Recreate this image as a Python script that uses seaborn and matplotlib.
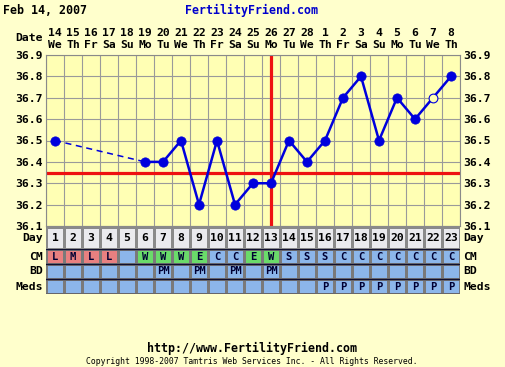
import numpy as np
import pandas as pd
import matplotlib.pyplot as plt
import seaborn as sns
from matplotlib.colors import ListedColormap

# chart data
cycle_days = list(range(1, 24))
dates = ["14", "15", "16", "17", "18", "19", "20", "21", "22", "23", "24", "25",
         "26", "27", "28", "1", "2", "3", "4", "5", "6", "7", "8"]
weekdays = ["We", "Th", "Fr", "Sa", "Su", "Mo", "Tu", "We", "Th", "Fr", "Sa", "Su",
            "Mo", "Tu", "We", "Th", "Fr", "Sa", "Su", "Mo", "Tu", "We", "Th"]
temps = [36.5, np.nan, np.nan, np.nan, np.nan, 36.4, 36.4, 36.5, 36.2, 36.5, 36.2, 36.3,
         36.3, 36.5, 36.4, 36.5, 36.7, 36.8, 36.5, 36.7, 36.6, 36.7, 36.8]
discarded_days = [22]
coverline = 36.35
ovulation_day = 13
y_ticks = [36.1, 36.2, 36.3, 36.4, 36.5, 36.6, 36.7, 36.8, 36.9]
cm = ["L", "M", "L", "L", "", "W", "W", "W", "E", "C", "C", "E", "W",
      "S", "S", "S", "C", "C", "C", "C", "C", "C", "C"]
bd = ["", "", "", "", "", "", "PM", "", "PM", "", "PM", "", "PM",
      "", "", "", "", "", "", "", "", "", ""]
meds = [""] * 15 + ["P"] * 8
row_names = ["CM", "BD", "Meds"]

BG = "#FFFFCC"
PLOT_BG = "#FFFFB4"
BLUE = "#0000DD"
RED = "#EE1111"
CELL_BLUE = "#8CB6EA"
CELL_RED = "#E88080"
CELL_GREEN = "#6ADB6A"
FONT = "DejaVu Sans Mono"

plt.rcParams["font.family"] = FONT
plt.rcParams["font.weight"] = "bold"

W, H = 506, 367
fig = plt.figure(figsize=(W / 100, H / 100), dpi=100, facecolor=BG)


def box(x0, y0, x1, y1):
    return [x0 / W, 1 - y1 / H, (x1 - x0) / W, (y1 - y0) / H]


ax = fig.add_axes(box(46, 55, 460, 226))
ax.set_facecolor(PLOT_BG)

df = pd.DataFrame({"day": cycle_days, "temp": temps}).dropna()
first = df.iloc[:2]
rest = df.iloc[1:]

sns.lineplot(data=first, x="day", y="temp", ax=ax, color=BLUE, lw=1.1,
             linestyle=(0, (4, 3)), zorder=3)
sns.lineplot(data=rest, x="day", y="temp", ax=ax, color=BLUE, lw=1.8, zorder=3)

ax.axhline(coverline, color=RED, lw=2.3, zorder=2.5)
ax.axvline(ovulation_day, color=RED, lw=2.3, zorder=2.5)

filled = df[~df["day"].isin(discarded_days)]
opened = df[df["day"].isin(discarded_days)]
sns.scatterplot(data=filled, x="day", y="temp", ax=ax, color=BLUE, s=45,
                edgecolor=BLUE, linewidth=0.5, zorder=4)
sns.scatterplot(data=opened, x="day", y="temp", ax=ax, color=PLOT_BG, s=40,
                edgecolor=BLUE, linewidth=0.8, zorder=4)

ax.set_xlim(0.5, 23.5)
ax.set_ylim(36.1, 36.9)
ax.set_xticks(np.arange(0.5, 24, 1))
ax.set_xticklabels([])
ax.set_yticks(y_ticks)
ax.set_yticklabels([f"{v:.1f}" for v in y_ticks])
ax.tick_params(axis="both", length=0, labelsize=8.2, labelright=True, pad=2)
ax.grid(True, color="#9a9a9a", lw=0.8, zorder=0)
ax.set_axisbelow(True)
ax.set_xlabel("")
ax.set_ylabel("")
for s in ax.spines.values():
    s.set_color("#8a8a8a")
    s.set_linewidth(0.8)

# date header
tr = ax.get_xaxis_transform()
for d, dt, wd in zip(cycle_days, dates, weekdays):
    ax.text(d, 1.128, dt, transform=tr, ha="center", va="center", fontsize=8.2)
    ax.text(d, 1.058, wd, transform=tr, ha="center", va="center", fontsize=8.2)
fig.text(43 / W, 1 - 38 / H, "Date", ha="right", va="center", fontsize=8.2)

# day row
day_ax = fig.add_axes(box(46, 227, 460, 249))
sns.heatmap(np.zeros((1, 23)), ax=day_ax, cmap=ListedColormap(["#EAEAEE"]),
            cbar=False, annot=np.array([[str(d) for d in cycle_days]]), fmt="",
            annot_kws={"color": "black", "fontsize": 8.2, "fontweight": "bold"},
            linewidths=0.8, linecolor="#8a8a8a", xticklabels=False, yticklabels=False)
day_ax.text(-0.008, 0.5, "Day", transform=day_ax.transAxes, ha="right",
            va="center", fontsize=8.2)
day_ax.text(1.008, 0.5, "Day", transform=day_ax.transAxes, ha="left",
            va="center", fontsize=8.2)

# CM / BD / Meds rows
def cm_code(c):
    if c in ("L", "M"):
        return 1
    if c in ("W", "E"):
        return 2
    return 0


codes = np.array([[cm_code(c) for c in cm], [0] * 23, [0] * 23])
labels = np.array([cm, bd, meds])
tab_ax = fig.add_axes(box(46, 249, 460, 294))
sns.heatmap(codes, ax=tab_ax, cmap=ListedColormap([CELL_BLUE, CELL_RED, CELL_GREEN]),
            vmin=-0.5, vmax=2.5, cbar=False, annot=labels, fmt="",
            annot_kws={"color": "#000033", "fontsize": 7.6, "fontweight": "bold"},
            linewidths=0.8, linecolor="#7a7a7a", xticklabels=False, yticklabels=False)
for yy in [0, 1, 2, 3]:
    tab_ax.axhline(yy, color="#101030", lw=1.0)
for i, name in enumerate(row_names):
    tab_ax.text(-0.008, 1 - (i + 0.5) / 3, name, transform=tab_ax.transAxes,
                ha="right", va="center", fontsize=8.2)
    tab_ax.text(1.008, 1 - (i + 0.5) / 3, name, transform=tab_ax.transAxes,
                ha="left", va="center", fontsize=8.2)

# header and footer
fig.text(3 / W, 1 - 10 / H, "Feb 14, 2007", ha="left", va="center", fontsize=8.4)
fig.text(252 / W, 1 - 10 / H, "FertilityFriend.com", ha="center", va="center",
         fontsize=8.4, color="#0000CC")
fig.text(252 / W, 1 - 348 / H, "http://www.FertilityFriend.com", ha="center",
         va="center", fontsize=8.4)
fig.text(252 / W, 1 - 362 / H,
         "Copyright 1998-2007 Tamtris Web Services Inc. - All Rights Reserved.",
         ha="center", va="center", fontsize=5.9, fontweight="normal")

fig.savefig("out.png", dpi=100, facecolor=BG)
